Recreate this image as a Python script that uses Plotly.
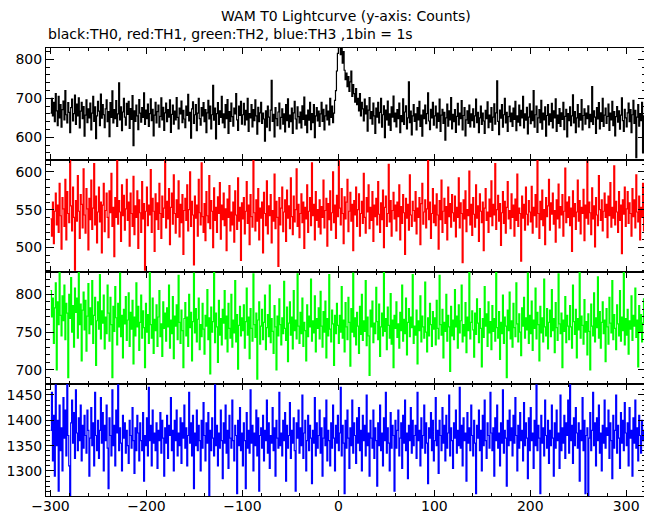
import plotly.graph_objects as go
from plotly.subplots import make_subplots

# time bins (1 bin = 1 s), relative to T0
TIME_S = list(range(-300, 320))

TH0_BLACK = [
    662, 700, 655, 690, 640, 712, 668, 630, 705, 650, 684, 626, 671, 693, 645, 720, 658, 637, 689, 664,
    612, 676, 698, 642, 661, 708, 633, 685, 655, 701, 624, 667, 690, 648, 679, 603, 657, 696, 638, 673,
    650, 688, 619, 662, 705, 641, 678, 597, 655, 692, 667, 630, 711, 649, 684, 658, 625, 673, 696, 640,
    666, 602, 689, 651, 719, 637, 671, 648, 694, 628, 660, 740, 645, 678, 617, 665, 700, 652, 631, 687,
    659, 692, 623, 674, 646, 707, 579, 668, 641, 683, 655, 620, 697, 662, 639, 676, 651, 714, 633, 670,
    648, 685, 628, 661, 699, 643, 672, 604, 657, 690, 637, 666, 683, 626, 654, 701, 645, 677, 618, 663,
    688, 640, 671, 652, 696, 613, 659, 683, 634, 667, 645, 702, 651, 622, 675, 660, 693, 638, 669, 647,
    625, 680, 656, 710, 642, 664, 598, 673, 691, 636, 658, 684, 617, 662, 700, 648, 631, 676, 655, 689,
    640, 671, 612, 663, 695, 647, 680, 622, 658, 733, 644, 675, 596, 661, 689, 633, 668, 651, 705, 637,
    660, 625, 684, 648, 697, 610, 666, 641, 688, 653, 629, 675, 660, 712, 645, 618, 680, 656, 692, 634,
    658, 687, 632, 669, 645, 700, 615, 661, 650, 684, 627, 671, 643, 696, 655, 608, 677, 640, 663, 690,
    636, 662, 647, 590, 668, 626, 680, 652, 617, 670, 746, 641, 659, 601, 676, 648, 630, 665, 688, 622,
    651, 673, 634, 660, 614, 684, 643, 699, 626, 657, 640, 675, 610, 663, 692, 647, 622, 678, 653, 637,
    665, 624, 681, 646, 703, 631, 657, 612, 670, 644, 690, 620, 661, 638, 684, 599, 655, 676, 642, 667,
    628, 660, 690, 641, 672, 619, 655, 683, 645, 667, 632, 700, 651, 680, 638, 662, 695, 720, 770, 815,
    845, 860, 812, 838, 790, 820, 772, 748, 765, 730, 756, 718, 742, 770, 705, 735, 712, 690, 725, 684,
    700, 668, 712, 655, 690, 673, 642, 698, 660, 681, 616, 670, 702, 648, 666, 634, 688, 655, 610, 675,
    652, 690, 637, 664, 700, 626, 658, 681, 599, 670, 645, 693, 631, 660, 618, 678, 652, 706, 640, 662,
    627, 671, 648, 688, 612, 656, 640, 699, 633, 665, 681, 622, 650, 742, 638, 667, 606, 655, 684, 641,
    660, 619, 676, 645, 692, 628, 657, 603, 670, 648, 683, 635, 661, 714, 642, 620, 672, 650, 690, 631,
    655, 680, 624, 662, 641, 698, 615, 657, 672, 636, 664, 593, 650, 685, 629, 668, 645, 702, 622, 659,
    640, 671, 613, 654, 687, 632, 662, 648, 694, 619, 656, 676, 604, 645, 668, 636, 683, 627, 660, 643,
    673, 626, 655, 698, 638, 664, 612, 650, 680, 633, 662, 642, 610, 669, 648, 691, 625, 657, 639, 676,
    618, 652, 686, 634, 663, 745, 641, 607, 670, 649, 684, 626, 658, 700, 637, 664, 615, 653, 680, 640,
    662, 628, 675, 646, 692, 617, 655, 639, 683, 630, 669, 650, 705, 624, 660, 644, 677, 609, 652, 686,
    635, 667, 643, 720, 626, 658, 680, 613, 650, 671, 638, 695, 621, 662, 645, 678, 603, 656, 684, 632,
    660, 641, 687, 624, 668, 650, 699, 615, 657, 636, 674, 628, 663, 646, 690, 620, 654, 672, 601, 661,
    643, 678, 630, 655, 709, 637, 666, 612, 650, 684, 627, 661, 644, 697, 619, 656, 673, 634, 662, 648,
    681, 625, 659, 640, 730, 633, 668, 652, 610, 676, 647, 689, 622, 663, 641, 700, 628, 657, 675, 636,
    654, 685, 618, 662, 645, 692, 630, 666, 604, 653, 679, 639, 668, 621, 657, 701, 643, 615, 672, 650,
    627, 663, 688, 640, 671, 612, 658, 695, 636, 669, 548, 652, 684, 629, 661, 643, 690, 560, 655, 640,
]

TH1_RED = [
    538, 515, 560, 505, 548, 572, 530, 556, 520, 585, 542, 498, 566, 551, 528, 590, 510, 574, 545, 533,
    618, 555, 522, 580, 540, 470, 562, 535, 595, 548, 512, 570, 557, 526, 604, 543, 519, 578, 551, 497,
    565, 537, 589, 524, 552, 611, 530, 568, 506, 547, 580, 534, 560, 493, 556, 585, 521, 549, 572, 540,
    513, 575, 546, 598, 528, 553, 488, 566, 540, 620, 531, 562, 547, 508, 583, 542, 569, 523, 551, 590,
    536, 560, 502, 572, 545, 528, 594, 517, 555, 540, 575, 499, 563, 546, 520, 587, 538, 558, 470, 548,
    580, 529, 556, 543, 603, 520, 565, 548, 495, 571, 537, 559, 524, 585, 545, 512, 568, 540, 552, 618,
    526, 561, 538, 578, 504, 553, 572, 531, 596, 545, 519, 563, 540, 588, 514, 557, 533, 570, 491, 549,
    565, 536, 583, 522, 550, 600, 528, 561, 543, 477, 568, 539, 556, 515, 590, 546, 530, 612, 541, 520,
    558, 509, 574, 542, 533, 595, 525, 562, 548, 500, 579, 536, 553, 520, 567, 545, 586, 511, 556, 537,
    572, 529, 551, 496, 564, 540, 582, 522, 547, 530, 560, 507, 575, 543, 524, 592, 535, 553, 483, 559,
    538, 566, 518, 548, 587, 532, 556, 504, 570, 541, 527, 615, 546, 522, 563, 535, 578, 510, 552, 539,
    560, 493, 573, 545, 529, 588, 518, 555, 542, 570, 506, 549, 535, 597, 525, 561, 540, 475, 566, 530,
    552, 580, 521, 547, 563, 508, 576, 539, 555, 525, 592, 541, 517, 568, 534, 550, 604, 528, 557, 513,
    545, 571, 533, 560, 499, 553, 538, 583, 520, 548, 566, 529, 612, 542, 557, 510, 574, 536, 550, 527,
    563, 518, 554, 540, 589, 526, 549, 565, 502, 558, 537, 575, 523, 546, 600, 533, 556, 512, 569, 541,
    620, 552, 530, 578, 545, 505, 567, 538, 560, 590, 521, 548, 573, 535, 557, 496, 562, 543, 580, 528,
    550, 571, 515, 545, 561, 532, 598, 540, 519, 566, 547, 583, 525, 553, 536, 574, 508, 556, 541, 565,
    530, 587, 544, 520, 559, 537, 576, 500, 553, 568, 528, 545, 610, 534, 562, 515, 549, 573, 538, 556,
    522, 560, 541, 583, 510, 554, 532, 570, 546, 491, 565, 539, 557, 523, 596, 543, 528, 561, 549, 535,
    574, 518, 552, 540, 566, 504, 558, 585, 531, 547, 563, 526, 551, 617, 537, 560, 512, 545, 578, 533,
    556, 529, 571, 543, 498, 562, 537, 589, 520, 548, 565, 532, 554, 510, 580, 541, 558, 527, 570, 546,
    535, 568, 514, 553, 540, 592, 526, 559, 545, 480, 563, 538, 575, 521, 550, 542, 601, 530, 557, 516,
    566, 544, 527, 583, 539, 555, 508, 571, 548, 533, 560, 496, 552, 578, 536, 547, 520, 564, 541, 588,
    529, 557, 543, 611, 524, 550, 569, 535, 558, 503, 546, 574, 532, 561, 519, 553, 587, 538, 549, 525,
    571, 540, 556, 515, 564, 536, 597, 528, 552, 545, 482, 568, 539, 557, 523, 580, 544, 530, 562, 547,
    534, 581, 519, 553, 542, 570, 527, 618, 545, 512, 561, 537, 576, 529, 550, 504, 566, 541, 555, 590,
    523, 559, 544, 572, 531, 549, 507, 563, 538, 584, 526, 554, 543, 570, 515, 548, 605, 533, 560, 540,
    567, 529, 552, 495, 575, 541, 558, 524, 547, 589, 535, 562, 518, 553, 545, 577, 509, 556, 539, 614,
    531, 560, 546, 517, 579, 538, 555, 501, 566, 543, 529, 595, 550, 536, 563, 522, 548, 572, 540, 557,
    513, 568, 542, 586, 527, 553, 539, 608, 530, 561, 547, 520, 574, 536, 556, 492, 563, 544, 580, 528,
    551, 574, 532, 559, 545, 515, 578, 541, 563, 526, 596, 547, 534, 568, 510, 553, 540, 585, 522, 557,
]

TH2_GREEN = [
    805, 770, 795, 735, 782, 815, 700, 790, 760, 830, 772, 745, 798, 765, 812, 740, 788, 775, 690, 800,
    768, 822, 750, 785, 730, 808, 776, 795, 742, 830, 760, 787, 712, 779, 803, 753, 792, 725, 771, 814,
    748, 782, 760, 818, 735, 772, 796, 706, 765, 790, 754, 826, 741, 778, 762, 799, 728, 770, 748, 812,
    775, 738, 796, 760, 690, 784, 751, 810, 769, 733, 788, 757, 828, 744, 772, 716, 780, 761, 797, 739,
    766, 802, 731, 776, 754, 792, 708, 770, 745, 815, 757, 784, 726, 763, 799, 742, 778, 756, 703, 788,
    750, 773, 735, 829, 760, 742, 795, 722, 767, 752, 786, 731, 770, 805, 744, 761, 718, 790, 755, 775,
    738, 782, 757, 812, 729, 766, 748, 797, 715, 771, 758, 786, 740, 825, 763, 735, 779, 752, 703, 768,
    789, 745, 770, 731, 800, 756, 776, 712, 764, 828, 749, 781, 737, 767, 795, 727, 760, 744, 788, 754,
    721, 772, 758, 806, 740, 769, 695, 783, 750, 764, 830, 736, 775, 757, 710, 792, 746, 768, 733, 780,
    762, 805, 741, 771, 724, 788, 755, 742, 800, 730, 766, 749, 818, 737, 773, 701, 759, 784, 745, 769,
    752, 786, 729, 764, 808, 746, 770, 715, 781, 755, 738, 827, 760, 743, 775, 688, 766, 790, 734, 758,
    780, 740, 763, 799, 727, 756, 773, 744, 812, 736, 768, 751, 722, 785, 757, 700, 771, 745, 794, 760,
    733, 769, 748, 817, 755, 739, 783, 711, 762, 790, 746, 770, 728, 805, 752, 766, 741, 827, 758, 735,
    776, 748, 795, 731, 763, 752, 712, 786, 744, 771, 757, 820, 738, 765, 749, 798, 724, 768, 755, 782,
    741, 804, 758, 730, 777, 750, 791, 716, 768, 745, 826, 754, 737, 779, 761, 706, 772, 748, 788, 759,
    735, 772, 750, 810, 742, 766, 724, 789, 757, 740, 796, 763, 705, 781, 750, 828, 744, 769, 733, 776,
    758, 722, 784, 747, 800, 739, 765, 751, 818, 732, 770, 745, 693, 779, 757, 791, 736, 762, 748, 809,
    764, 740, 787, 718, 757, 775, 745, 829, 751, 768, 727, 783, 759, 742, 801, 734, 766, 703, 772, 755,
    790, 743, 761, 729, 776, 752, 812, 738, 767, 748, 795, 720, 763, 781, 744, 770, 756, 826, 735, 758,
    746, 779, 708, 765, 752, 798, 737, 771, 757, 742, 816, 750, 724, 769, 745, 788, 760, 731, 777, 754,
    769, 733, 792, 755, 741, 825, 760, 746, 780, 716, 763, 751, 800, 738, 772, 757, 698, 784, 745, 766,
    740, 806, 757, 771, 729, 786, 749, 765, 812, 737, 760, 745, 789, 723, 770, 752, 829, 741, 763, 778,
    753, 717, 775, 747, 794, 762, 736, 781, 755, 704, 768, 743, 810, 758, 774, 731, 790, 749, 764, 727,
    785, 751, 768, 738, 829, 756, 742, 777, 714, 763, 748, 799, 735, 770, 758, 690, 779, 752, 803, 741,
    765, 730, 788, 756, 744, 815, 761, 737, 774, 750, 719, 782, 758, 796, 742, 769, 753, 828, 735, 772,
    748, 791, 726, 766, 755, 808, 741, 776, 760, 712, 784, 749, 769, 737, 820, 757, 745, 781, 728, 763,
    779, 744, 806, 752, 768, 723, 789, 756, 739, 827, 761, 748, 775, 703, 766, 751, 797, 736, 772, 758,
    740, 785, 757, 729, 812, 764, 747, 780, 716, 768, 753, 829, 742, 771, 759, 734, 793, 750, 764, 720,
    774, 751, 700, 787, 758, 745, 802, 737, 769, 756, 823, 742, 777, 729, 763, 790, 748, 766, 711, 781,
    757, 734, 796, 762, 749, 818, 740, 773, 755, 727, 786, 761, 745, 805, 738, 770, 752, 829, 733, 768,
    746, 780, 721, 765, 754, 798, 739, 772, 758, 808, 743, 766, 704, 785, 750, 773, 737, 762, 794, 748,
]

TH3_BLUE = [
    1380, 1455, 1320, 1410, 1290, 1470, 1350, 1400, 1260, 1430, 1340, 1385, 1300, 1445, 1365, 1420, 1330, 1475, 1370, 1310,
    1250, 1395, 1440, 1355, 1415, 1325, 1460, 1375, 1340, 1405, 1360, 1430, 1320, 1390, 1345, 1410, 1370, 1335, 1420, 1380,
    1290, 1365, 1425, 1350, 1395, 1310, 1455, 1370, 1340, 1400, 1325, 1380, 1445, 1355, 1415, 1300, 1390, 1360, 1430, 1345,
    1265, 1405, 1370, 1330, 1460, 1350, 1390, 1310, 1420, 1375, 1470, 1340, 1385, 1355, 1300, 1410, 1365, 1395, 1335, 1380,
    1350, 1315, 1400, 1370, 1345, 1425, 1360, 1295, 1385, 1340, 1410, 1375, 1320, 1395, 1360, 1340, 1415, 1280, 1370, 1350,
    1405, 1330, 1465, 1360, 1390, 1310, 1420, 1355, 1375, 1340, 1395, 1305, 1380, 1360, 1415, 1335, 1400, 1365, 1290, 1385,
    1355, 1410, 1325, 1390, 1370, 1445, 1340, 1380, 1300, 1400, 1360, 1420, 1330, 1375, 1350, 1405, 1315, 1395, 1365, 1430,
    1345, 1385, 1310, 1370, 1455, 1355, 1395, 1330, 1410, 1265, 1375, 1350, 1420, 1340, 1390, 1360, 1300, 1400, 1345, 1435,
    1370, 1320, 1395, 1355, 1415, 1250, 1380, 1340, 1405, 1365, 1330, 1470, 1350, 1390, 1310, 1375, 1345, 1420, 1360, 1285,
    1395, 1355, 1430, 1335, 1380, 1305, 1410, 1365, 1345, 1440, 1360, 1320, 1390, 1370, 1255, 1400, 1350, 1425, 1340, 1375,
    1310, 1395, 1360, 1265, 1415, 1345, 1380, 1335, 1460, 1355, 1390, 1300, 1375, 1350, 1420, 1330, 1405, 1260, 1370, 1385,
    1345, 1410, 1320, 1380, 1360, 1440, 1335, 1395, 1305, 1370, 1355, 1425, 1340, 1385, 1290, 1400, 1365, 1345, 1455, 1350,
    1375, 1330, 1400, 1360, 1415, 1280, 1390, 1345, 1370, 1435, 1325, 1380, 1355, 1405, 1340, 1260, 1395, 1365, 1420, 1335,
    1385, 1350, 1450, 1325, 1375, 1400, 1300, 1360, 1410, 1340, 1390, 1365, 1275, 1380, 1355, 1445, 1330, 1395, 1345, 1370,
    1420, 1335, 1385, 1290, 1365, 1405, 1350, 1440, 1320, 1380, 1360, 1310, 1395, 1345, 1430, 1365, 1300, 1390, 1355, 1410,
    1340, 1375, 1465, 1330, 1390, 1355, 1255, 1400, 1345, 1420, 1365, 1305, 1385, 1350, 1440, 1335, 1395, 1370, 1315, 1405,
    1355, 1425, 1340, 1380, 1300, 1410, 1360, 1390, 1330, 1450, 1350, 1375, 1290, 1400, 1365, 1345, 1420, 1325, 1385, 1360,
    1270, 1395, 1350, 1430, 1340, 1375, 1310, 1405, 1360, 1455, 1335, 1385, 1355, 1300, 1415, 1345, 1390, 1370, 1260, 1400,
    1345, 1380, 1420, 1330, 1365, 1395, 1305, 1410, 1355, 1440, 1340, 1375, 1285, 1390, 1360, 1425, 1335, 1400, 1350, 1370,
    1390, 1325, 1455, 1360, 1380, 1310, 1405, 1345, 1370, 1430, 1335, 1395, 1355, 1275, 1385, 1365, 1415, 1340, 1400, 1320,
    1360, 1445, 1350, 1380, 1295, 1400, 1370, 1340, 1425, 1355, 1390, 1320, 1410, 1345, 1375, 1450, 1330, 1385, 1360, 1305,
    1395, 1365, 1420, 1335, 1380, 1350, 1465, 1345, 1390, 1310, 1405, 1360, 1375, 1280, 1415, 1355, 1385, 1340, 1430, 1370,
    1330, 1400, 1355, 1255, 1390, 1365, 1420, 1340, 1380, 1300, 1410, 1350, 1440, 1360, 1325, 1395, 1370, 1345, 1455, 1375,
    1340, 1385, 1290, 1405, 1360, 1430, 1345, 1375, 1310, 1395, 1355, 1460, 1335, 1380, 1365, 1270, 1400, 1350, 1420, 1360,
    1385, 1330, 1410, 1355, 1445, 1370, 1300, 1390, 1345, 1415, 1360, 1380, 1320, 1435, 1350, 1395, 1365, 1285, 1405, 1340,
    1425, 1360, 1375, 1305, 1400, 1350, 1470, 1340, 1390, 1365, 1255, 1410, 1355, 1385, 1330, 1440, 1370, 1345, 1400, 1315,
    1380, 1350, 1430, 1365, 1290, 1395, 1345, 1420, 1360, 1375, 1305, 1450, 1340, 1385, 1355, 1410, 1325, 1395, 1370, 1440,
    1335, 1470, 1360, 1390, 1315, 1405, 1350, 1425, 1375, 1345, 1395, 1280, 1380, 1360, 1445, 1340, 1400, 1255, 1370, 1385,
    1250, 1365, 1415, 1340, 1380, 1455, 1350, 1395, 1310, 1405, 1360, 1430, 1335, 1375, 1300, 1390, 1355, 1440, 1345, 1385,
    1370, 1420, 1325, 1395, 1360, 1285, 1410, 1345, 1380, 1450, 1335, 1390, 1365, 1305, 1415, 1355, 1400, 1340, 1435, 1375,
    1350, 1395, 1310, 1425, 1365, 1380, 1290, 1405, 1355, 1440, 1345, 1385, 1320, 1410, 1370, 1335, 1400, 1360, 1380, 1345,
]

SERIES = [TH0_BLACK, TH1_RED, TH2_GREEN, TH3_BLUE]
COLORS = ["#000000", "#ff0000", "#00ff00", "#0000ff"]
NAMES = ["TH0", "TH1", "TH2", "TH3"]

TITLE = "WAM T0 Lightcurve (y-axis: Counts)"
SUBTITLE = "black:TH0, red:TH1, green:TH2, blue:TH3 ,1bin = 1s"

X_RANGE = [-304.7, 320.6]
Y_RANGES = [[542, 829], [467.7, 615.7], [681.5, 829.4], [1250.6, 1471.7]]
Y_DTICK = [100, 50, 50, 50]
Y_MINOR = [20, 10, 10, 10]

FONT = "DejaVu Sans, sans-serif"

# the page body has an 8px default margin; size the figure so the plot
# frame lands at x 46..646, y 48..496 in the 652x515 window
PAGE_OFF = 8
FIG_W, FIG_H = 652 - PAGE_OFF, 515 - PAGE_OFF
M_L, M_R, M_T, M_B = 46 - PAGE_OFF, 6, 48 - PAGE_OFF, 19
PLOT_H = FIG_H - M_T - M_B
PLOT_W = FIG_W - M_L - M_R

fig = make_subplots(rows=4, cols=1, shared_xaxes=True, vertical_spacing=0)

for i, (vals, col, nm) in enumerate(zip(SERIES, COLORS, NAMES)):
    fig.add_trace(
        go.Scatter(x=TIME_S, y=vals, mode="lines", name=nm,
                   line=dict(color=col, width=1.2, shape="hv"),
                   showlegend=False, hoverinfo="skip"),
        row=i + 1, col=1,
    )
    fig.update_yaxes(
        range=Y_RANGES[i], dtick=Y_DTICK[i], tick0=0,
        showgrid=False, zeroline=False,
        showline=True, linecolor="black", linewidth=1, mirror="ticks",
        ticks="inside", ticklen=8, tickwidth=1, tickcolor="black",
        minor=dict(dtick=Y_MINOR[i], ticklen=4, tickwidth=1, tickcolor="black", ticks="inside", showgrid=False),
        tickfont=dict(family=FONT, size=14, color="black"),
        automargin=False,
        row=i + 1, col=1,
    )
    fig.update_xaxes(
        range=X_RANGE, dtick=100, tick0=0,
        showgrid=False, zeroline=False,
        showline=True, linecolor="black", linewidth=1, mirror="ticks",
        ticks="inside", ticklen=6, tickwidth=1, tickcolor="black",
        minor=dict(dtick=20, ticklen=3, tickwidth=1, tickcolor="black", ticks="inside", showgrid=False),
        tickfont=dict(family=FONT, size=14, color="black"),
        ticklabelstandoff=-3,
        automargin=False,
        row=i + 1, col=1,
    )

fig.update_layout(
    width=FIG_W, height=FIG_H,
    margin=dict(l=M_L, r=M_R, t=M_T, b=M_B, pad=0),
    paper_bgcolor="white", plot_bgcolor="white",
    font=dict(family=FONT, size=14, color="black"),
    annotations=[
        dict(text=TITLE, xref="paper", yref="paper", x=0.5, y=1 + (48 - 16) / PLOT_H,
             xanchor="center", yanchor="middle", showarrow=False,
             font=dict(family=FONT, size=14, color="black")),
        dict(text=SUBTITLE, xref="paper", yref="paper", x=(46 - 46) / PLOT_W, y=1 + (48 - 34) / PLOT_H,
             xanchor="left", yanchor="middle", showarrow=False,
             font=dict(family=FONT, size=14, color="black")),
    ],
)

fig.write_html("out.html")
